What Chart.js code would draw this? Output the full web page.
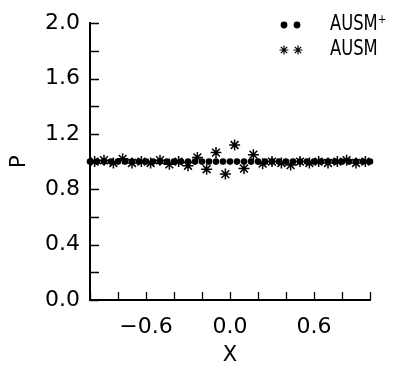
<!DOCTYPE html>
<html><head><meta charset="utf-8">
<script src="https://cdn.jsdelivr.net/npm/chart.js@4/dist/chart.umd.min.js"></script>
<style>html,body{margin:0;padding:0;background:#fff}#wrap{width:397px;height:369px;position:relative}</style>
</head><body><div id="wrap"><canvas id="c"></canvas></div>
<script>
// ---- data ----
const seriesNames = ['AUSM\u207A', 'AUSM'];
const ausmPlusX = [-1.00,-0.95,-0.90,-0.85,-0.80,-0.75,-0.70,-0.65,-0.60,-0.55,-0.50,-0.45,-0.40,-0.35,-0.30,-0.25,-0.20,-0.15,-0.10,-0.05,0.00,0.05,0.10,0.15,0.20,0.25,0.30,0.35,0.40,0.45,0.50,0.55,0.60,0.65,0.70,0.75,0.80,0.85,0.90,0.95,1.00];
const ausmPlusP = [1.00,1.00,1.00,1.00,1.00,1.00,1.00,1.00,1.00,1.00,1.00,1.00,1.00,1.00,1.00,1.00,1.00,1.00,1.00,1.00,1.00,1.00,1.00,1.00,1.00,1.00,1.00,1.00,1.00,1.00,1.00,1.00,1.00,1.00,1.00,1.00,1.00,1.00,1.00,1.00,1.00];
const ausmX = [-0.967,-0.900,-0.833,-0.767,-0.700,-0.633,-0.567,-0.500,-0.433,-0.367,-0.300,-0.233,-0.167,-0.100,-0.033,0.033,0.100,0.167,0.233,0.300,0.367,0.433,0.500,0.567,0.633,0.700,0.767,0.833,0.900,0.967];
const ausmP = [1.00,1.01,0.99,1.02,0.99,1.00,0.99,1.01,0.98,1.00,0.97,1.03,0.945,1.065,0.91,1.12,0.95,1.05,0.985,1.00,0.99,0.975,1.00,0.99,1.00,0.99,1.00,1.01,0.99,1.00];
const xTickLabels = ['\u22120.6', '0.0', '0.6'];
const yTickLabels = ['0.0', '0.4', '0.8', '1.2', '1.6', '2.0'];
const xTitle = 'X';
const yTitle = 'P';

const toNum = s => parseFloat(s.replace('\u2212', '-'));
const labelFor = (list, v) => { const f = list.find(s => Math.abs(toNum(s) - v) < 1e-6); return f === undefined ? '' : f; };

const FONT = 'DejaVu Sans';

const inwardTicks = {
  id: 'inwardTicks',
  afterDatasetsDraw(chart) {
    const ctx = chart.ctx, xs = chart.scales.x, ys = chart.scales.y, a = chart.chartArea;
    ctx.save();
    ctx.strokeStyle = '#000';
    ctx.lineWidth = 1.3;
    ctx.beginPath();
    xs.ticks.forEach(t => { const px = Math.round(xs.getPixelForValue(t.value)) + 0.5; ctx.moveTo(px, a.bottom); ctx.lineTo(px, a.bottom - 8); });
    ys.ticks.forEach(t => { const py = Math.round(ys.getPixelForValue(t.value)) + 0.5; ctx.moveTo(a.left, py); ctx.lineTo(a.left + 9, py); });
    ctx.stroke();
    ctx.restore();
  }
};

const customLegend = {
  id: 'customLegend',
  afterDraw(chart) {
    const ctx = chart.ctx;
    const rows = [
      {y: 25, style: 'circle', r: 2.8, xs: [284, 297]},
      {y: 50, style: 'star', r: 4.5, xs: [284, 298]}
    ];
    rows.forEach((row, i) => {
      row.xs.forEach(px => {
        ctx.save();
        ctx.fillStyle = '#000'; ctx.strokeStyle = '#000'; ctx.lineWidth = 1.2;
        Chart.helpers.drawPoint(ctx, {pointStyle: row.style, radius: row.r, borderWidth: 1.2, rotation: 0}, px, row.y);
        ctx.restore();
      });
      ctx.save();
      ctx.fillStyle = '#000';
      ctx.font = '21px "' + FONT + '"';
      ctx.textBaseline = 'middle';
      ctx.translate(330, row.y);
      ctx.scale(0.78, 1);
      ctx.fillText(seriesNames[i], 0, 0);
      ctx.restore();
    });
  }
};

new Chart(document.getElementById('c'), {
  type: 'scatter',
  data: {
    datasets: [
      {
        label: seriesNames[0],
        data: ausmPlusX.map((x, i) => ({x, y: ausmPlusP[i]})),
        pointStyle: 'circle', pointRadius: 3.3, pointBorderWidth: 0,
        backgroundColor: '#000', borderColor: '#000', clip: false
      },
      {
        label: seriesNames[1],
        data: ausmX.map((x, i) => ({x, y: ausmP[i]})),
        pointStyle: 'star', pointRadius: 5.5, pointBorderWidth: 1.5,
        backgroundColor: '#000', borderColor: '#000', clip: false
      }
    ]
  },
  options: {
    responsive: true,
    maintainAspectRatio: false,
    animation: false,
    events: [],
    layout: {padding: {top: 18, right: 27, left: 0, bottom: 0}},
    plugins: {legend: {display: false}, tooltip: {enabled: false}},
    scales: {
      x: {
        type: 'linear', min: -1, max: 1,
        afterFit: s => { s.height = 69; },
        grid: {display: true, drawOnChartArea: false, drawTicks: false},
        border: {display: true, color: '#000', width: 2},
        ticks: {
          stepSize: 0.2, padding: 14, color: '#000', maxRotation: 0, autoSkip: false,
          font: {family: FONT, size: 22},
          callback: v => labelFor(xTickLabels, v)
        },
        title: {display: true, text: xTitle, color: '#000', font: {family: FONT, size: 21}, padding: {top: 0, bottom: 1}}
      },
      y: {
        type: 'linear', min: 0, max: 2,
        afterFit: s => { s.width = 90; },
        grid: {display: true, drawOnChartArea: false, drawTicks: false},
        border: {display: true, color: '#000', width: 2},
        ticks: {
          stepSize: 0.2, padding: 10, color: '#000', autoSkip: false,
          font: {family: FONT, size: 22},
          callback: v => labelFor(yTickLabels, v)
        },
        title: {display: true, text: yTitle, color: '#000', font: {family: FONT, size: 21}, padding: {top: 7, bottom: 0}}
      }
    }
  },
  plugins: [inwardTicks, customLegend]
});
</script>
</body></html>
